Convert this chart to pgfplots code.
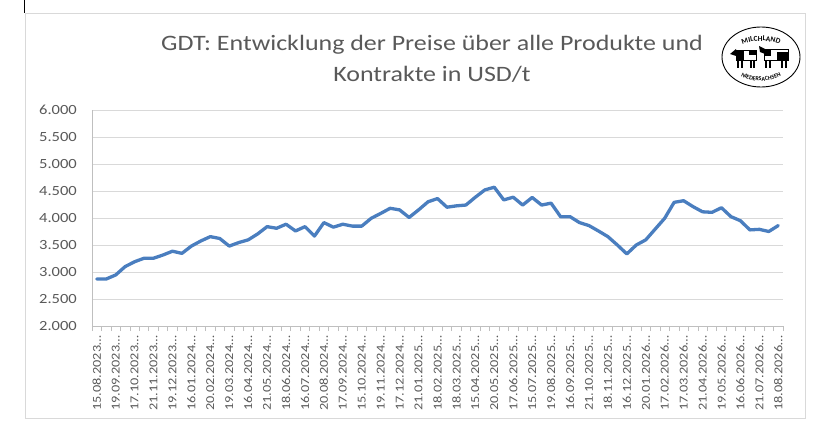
\documentclass[border=0pt]{standalone}
\usepackage{fontspec}
\setmainfont{Carlito}[FakeStretch=1.18]
\newfontfamily\logofont{Carlito}
\usepackage{pgfplots}
\pgfplotsset{compat=1.18}
\usetikzlibrary{decorations.text}
\definecolor{txt}{HTML}{595959}
\definecolor{gridc}{HTML}{D9D9D9}
\definecolor{axl}{HTML}{BFBFBF}
\definecolor{serie}{HTML}{4A7EBF}
\begin{document}
\begin{tikzpicture}
\path[use as bounding box] (-92pt,-100pt) rectangle (730pt,326pt);
\draw[gridc, line width=1pt] (-66pt,-92pt) rectangle (713pt,312pt);
\draw[black, line width=1pt] (-67pt,326pt) -- (-67pt,313pt);
\node[anchor=base, text=txt, font=\fontsize{22}{26}\selectfont] at (340pt,275pt) {GDT: Entwicklung der Preise über alle Produkte und};
\node[anchor=base, text=txt, font=\fontsize{22}{26}\selectfont] at (340pt,244pt) {Kontrakte in USD/t};
% logo
\begin{scope}[shift={(669pt,269pt)}]
\draw[line width=0.9pt] (0,0) ellipse [x radius=39pt, y radius=30pt];
\path[decorate, decoration={text along path, text align=center, text={|\logofont\fontsize{7.5}{7.5}\bfseries|MILCHLAND}}]
  (165:{30pt} and {16pt}) arc [start angle=165, end angle=15, x radius=30pt, y radius=16pt];
\path[decorate, decoration={text along path, text align=center, text={|\logofont\fontsize{6}{6}\bfseries|NIEDERSACHSEN}}]
  (195:{33pt} and {24pt}) arc [start angle=195, end angle=345, x radius=33pt, y radius=24pt];
% left cow
\draw[line width=0.5pt] (-25pt,-3pt) rectangle (-5pt,7pt);
\fill (-25pt,-3pt) rectangle (-17pt,7pt);
\fill (-12pt,2pt) rectangle (-5pt,7pt);
\fill (-31pt,3pt) -- (-25pt,8pt) -- (-25pt,1pt) -- cycle;
\draw[line width=1.2pt] (-23pt,-3pt) -- (-23pt,-11pt) (-19pt,-3pt) -- (-19pt,-11pt) (-10pt,-3pt) -- (-10pt,-11pt) (-7pt,-3pt) -- (-7pt,-11pt);
% right cow
\draw[line width=0.5pt] (3pt,-3pt) rectangle (27pt,8pt);
\fill (3pt,1pt) rectangle (10pt,8pt);
\fill (16pt,-3pt) rectangle (27pt,5pt);
\fill (-2pt,11pt) -- (4pt,8pt) -- (4pt,3pt) -- (-1pt,5pt) -- cycle;
\draw[line width=1.2pt] (5pt,-3pt) -- (5pt,-11pt) (9pt,-3pt) -- (9pt,-11pt) (21pt,-3pt) -- (21pt,-11pt) (25pt,-3pt) -- (25pt,-11pt);
\end{scope}
\begin{axis}[
 at={(0pt,0pt)}, anchor=south west, scale only axis,
 width=691pt, height=216pt,
 xmin=-0.5, xmax=72.5, ymin=2000, ymax=6000,
 axis x line*=bottom, axis y line*=left,
 axis line style={draw=axl, line width=0.8pt, -},
 ytick={2000,2500,...,6000},
 yticklabels={2.000,2.500,3.000,3.500,4.000,4.500,5.000,5.500,6.000},
 ymajorgrids, grid style={draw=gridc, line width=0.8pt},
 major tick length=0pt,
 xtick={0,2,...,72},
 xticklabels={15.08.2023…,19.09.2023…,17.10.2023…,21.11.2023…,19.12.2023…,16.01.2024…,20.02.2024…,19.03.2024…,16.04.2024…,21.05.2024…,18.06.2024…,16.07.2024…,20.08.2024…,17.09.2024…,15.10.2024…,19.11.2024…,17.12.2024…,21.01.2025…,18.02.2025…,18.03.2025…,15.04.2025…,20.05.2025…,17.06.2025…,15.07.2025…,19.08.2025…,16.09.2025…,21.10.2025…,18.11.2025…,16.12.2025…,20.01.2026…,17.02.2026…,17.03.2026…,21.04.2026…,19.05.2026…,16.06.2026…,21.07.2026…,18.08.2026…},
 minor xtick={-0.5,0.5,...,72.5},
 minor tick length=5pt, tick align=outside,
 minor tick style={draw=axl, line width=0.6pt},
 yticklabel style={font=\fontsize{14}{14}\selectfont, text=txt, anchor=east, inner sep=0pt, xshift=-15pt},
 xticklabel style={font=\fontsize{12.1}{12.1}\selectfont, text=txt, rotate=90, anchor=east, inner sep=0pt},
 xticklabel shift=9.5pt,
 clip=false,
]
\addplot[serie, line width=3.3pt, line join=round, line cap=round] coordinates {
(0,2870) (1,2870) (2,2945) (3,3100) (4,3190) (5,3255) (6,3255) (7,3315) (8,3385) (9,3345)
(10,3480) (11,3575) (12,3655) (13,3620) (14,3480) (15,3545) (16,3595) (17,3705) (18,3840) (19,3810)
(20,3885) (21,3760) (22,3840) (23,3665) (24,3915) (25,3830) (26,3885) (27,3850) (28,3850) (29,3995)
(30,4085) (31,4180) (32,4150) (33,4010) (34,4150) (35,4300) (36,4360) (37,4200) (38,4225) (39,4240)
(40,4385) (41,4520) (42,4570) (43,4335) (44,4385) (45,4240) (46,4380) (47,4240) (48,4275) (49,4025)
(50,4025) (51,3915) (52,3860) (53,3760) (54,3655) (55,3500) (56,3335) (57,3500) (58,3595) (59,3795)
(60,3995) (61,4290) (62,4320) (63,4210) (64,4115) (65,4105) (66,4190) (67,4025) (68,3950) (69,3780)
(70,3790) (71,3750) (72,3860)
};
\end{axis}
\end{tikzpicture}
\end{document}
